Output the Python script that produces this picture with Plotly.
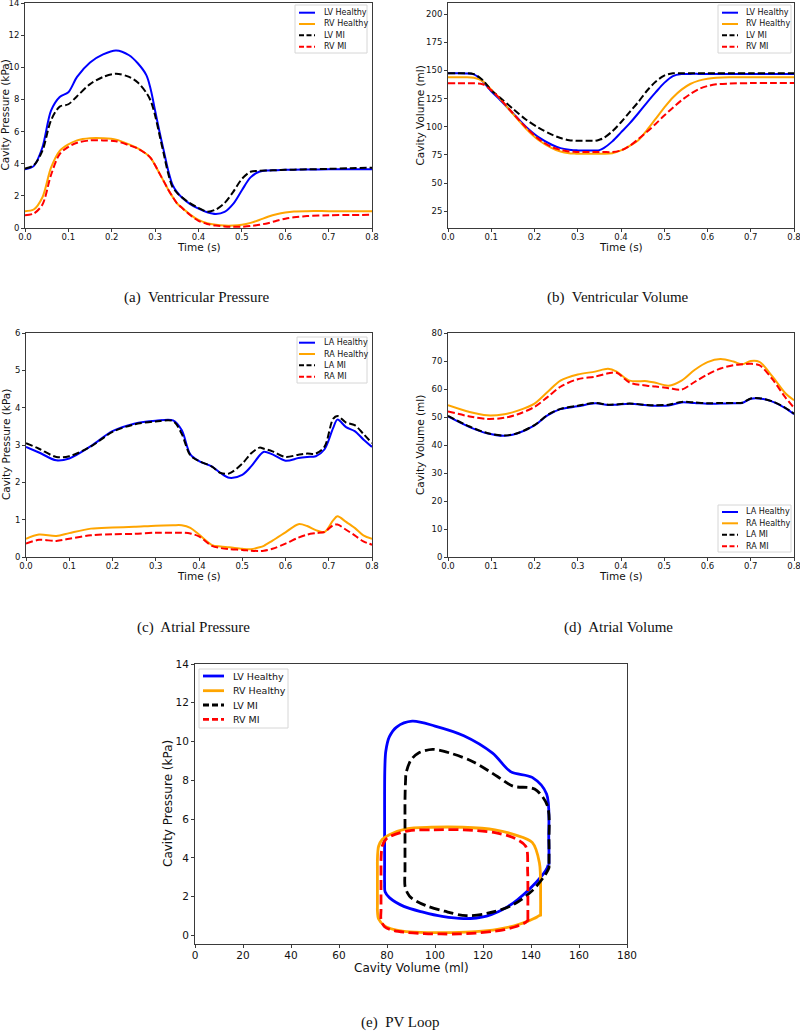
import plotly.graph_objects as go

W, H = 800, 1031

# ---------------- data: ventricles (shared time grid) ----------------
T_V = [0.00, 0.02, 0.04, 0.06, 0.08, 0.10, 0.12, 0.15, 0.18, 0.21, 0.24, 0.26, 0.28, 0.29, 0.30,
       0.31, 0.32, 0.33, 0.34, 0.35, 0.36, 0.38, 0.40, 0.42, 0.44, 0.46, 0.48, 0.50, 0.52, 0.54,
       0.56, 0.58, 0.60, 0.62, 0.65, 0.70, 0.75, 0.80]

LV_P_H = [3.65, 3.85, 5.0, 7.3, 8.15, 8.45, 9.4, 10.3, 10.8, 11.05, 10.75, 10.25, 9.5, 8.6, 7.3,
          6.0, 4.8, 3.6, 2.7, 2.25, 1.95, 1.5, 1.2, 0.98, 0.87, 1.0, 1.5, 2.35, 3.15, 3.5,
          3.58, 3.6, 3.62, 3.63, 3.64, 3.65, 3.65, 3.65]
RV_P_H = [1.05, 1.15, 1.9, 3.75, 4.8, 5.2, 5.45, 5.58, 5.58, 5.5, 5.2, 4.95, 4.6, 4.35, 3.9,
          3.4, 2.9, 2.4, 1.95, 1.55, 1.3, 0.85, 0.5, 0.3, 0.2, 0.15, 0.15, 0.2, 0.32, 0.5,
          0.7, 0.86, 0.97, 1.03, 1.05, 1.05, 1.05, 1.05]
LV_P_MI = [3.7, 3.9, 4.8, 6.7, 7.55, 7.7, 8.2, 8.95, 9.4, 9.6, 9.4, 9.05, 8.4, 7.9, 7.0,
           5.8, 4.6, 3.4, 2.55, 2.2, 1.95, 1.55, 1.25, 1.02, 1.15, 1.55, 2.25, 3.05, 3.5, 3.56,
           3.58, 3.6, 3.62, 3.63, 3.65, 3.68, 3.72, 3.75]
RV_P_MI = [0.8, 0.9, 1.45, 3.3, 4.6, 5.05, 5.3, 5.45, 5.45, 5.4, 5.15, 4.95, 4.6, 4.35, 3.9,
           3.4, 2.9, 2.4, 1.95, 1.55, 1.3, 0.82, 0.45, 0.25, 0.15, 0.1, 0.08, 0.08, 0.12, 0.2,
           0.3, 0.45, 0.58, 0.67, 0.74, 0.79, 0.81, 0.82]

LV_V_H = [147.5, 147.5, 147.4, 146.5, 140.5, 131.5, 124, 112, 100, 90.5, 84, 81, 79.5, 79.1, 79,
          79, 79, 79, 79, 79.2, 81, 87, 95, 103, 112, 121.5, 130.5, 139, 145, 146.8,
          147, 147, 147, 147, 147, 147, 147, 147]
RV_V_H = [144, 144, 144, 143.5, 140.5, 133, 125, 111.5, 98.5, 88, 81, 78, 76.5, 76.2, 76,
          76, 76, 76, 76, 76, 76, 76.5, 79, 83, 88, 97, 107, 117, 126, 133,
          138, 141, 142.7, 143.5, 144, 144, 144, 144]
LV_V_MI = [147.5, 147.5, 147.5, 146.8, 141.5, 132.5, 126, 116, 106.5, 99, 93, 90, 88, 87.7, 87.5,
           87.5, 87.5, 87.5, 87.5, 88.5, 90, 96, 104, 113, 122, 132, 140, 145.5, 147.5, 147.5,
           147.5, 147.5, 147.5, 147.5, 147.5, 147.5, 147.5, 147.5]
RV_V_MI = [138.7, 138.7, 138.7, 138.6, 137.8, 132.5, 125, 112, 99.5, 89, 82, 79.5, 78, 77.7, 77.5,
           77.5, 77.5, 77.5, 77.5, 77.5, 77.5, 77.5, 79, 83, 89, 95.5, 102.5, 110, 117, 123.5,
           129, 133.5, 136.2, 137.7, 138.4, 138.8, 138.8, 138.8]

# ---------------- data: atrial pressure ----------------
T_AP = [0.00, 0.03, 0.07, 0.10, 0.15, 0.20, 0.25, 0.30, 0.34, 0.36, 0.38, 0.40, 0.43, 0.45, 0.47,
        0.50, 0.52, 0.54, 0.55, 0.57, 0.60, 0.63, 0.65, 0.67, 0.69, 0.71, 0.72, 0.74, 0.76, 0.78, 0.80]
LA_P_H = [2.95, 2.8, 2.59, 2.64, 2.97, 3.37, 3.57, 3.65, 3.66, 3.4, 2.75, 2.57, 2.42, 2.25, 2.12,
          2.2, 2.42, 2.72, 2.82, 2.75, 2.58, 2.65, 2.68, 2.7, 2.88, 3.45, 3.68, 3.48, 3.37, 3.15, 2.95]
RA_P_H = [0.49, 0.6, 0.56, 0.64, 0.76, 0.79, 0.81, 0.84, 0.85, 0.85, 0.78, 0.6, 0.32, 0.28, 0.26,
          0.22, 0.21, 0.26, 0.3, 0.44, 0.66, 0.88, 0.83, 0.72, 0.67, 0.98, 1.09, 0.94, 0.78, 0.58, 0.49]
LA_P_MI = [3.05, 2.9, 2.68, 2.7, 2.96, 3.35, 3.55, 3.63, 3.64, 3.3, 2.72, 2.57, 2.42, 2.25, 2.24,
           2.5, 2.77, 2.93, 2.9, 2.83, 2.68, 2.74, 2.77, 2.77, 2.95, 3.7, 3.78, 3.6, 3.53, 3.3, 3.05]
RA_P_MI = [0.36, 0.46, 0.43, 0.49, 0.58, 0.61, 0.62, 0.65, 0.65, 0.65, 0.63, 0.55, 0.3, 0.24, 0.21,
           0.19, 0.17, 0.16, 0.17, 0.22, 0.36, 0.52, 0.6, 0.64, 0.67, 0.85, 0.87, 0.73, 0.58, 0.42, 0.33]

# ---------------- data: atrial volume ----------------
T_AV = [0.00, 0.05, 0.09, 0.13, 0.16, 0.20, 0.23, 0.26, 0.30, 0.34, 0.37, 0.39, 0.42, 0.46, 0.48,
        0.51, 0.54, 0.57, 0.60, 0.63, 0.66, 0.68, 0.70, 0.72, 0.75, 0.78, 0.80]
LA_V_H = [50.2, 46.4, 44.2, 43.3, 44.1, 47.0, 50.6, 52.8, 53.8, 54.9, 54.3, 54.4, 54.7, 54.2, 54.0,
          54.1, 55.2, 55.0, 54.7, 54.8, 54.9, 55.0, 56.5, 56.6, 55.5, 53.2, 51.0]
RA_V_H = [54.2, 51.8, 50.6, 51.0, 52.2, 54.8, 58.9, 63.0, 65.2, 66.2, 67.2, 66.2, 63.0, 62.8, 62.2,
          61.2, 63.0, 66.8, 69.6, 70.7, 69.8, 68.8, 70.0, 69.7, 64.5, 58.5, 56.0]
LA_V_MI = [50.4, 46.6, 44.3, 43.4, 44.2, 47.1, 50.7, 52.9, 54.0, 55.0, 54.4, 54.5, 54.8, 54.3, 54.2,
           54.4, 55.4, 55.2, 54.9, 55.0, 55.0, 55.1, 56.6, 56.7, 55.6, 53.3, 51.2]
RA_V_MI = [52.0, 50.2, 49.3, 49.7, 50.9, 53.6, 57.1, 60.8, 63.5, 64.4, 65.6, 65.8, 62.3, 61.2, 60.9,
           60.3, 59.8, 62.5, 65.2, 67.3, 68.5, 68.8, 69.0, 68.5, 63.5, 57.0, 53.3]

NAMES_V = ["LV Healthy", "RV Healthy", "LV MI", "RV MI"]
NAMES_A = ["LA Healthy", "RA Healthy", "LA MI", "RA MI"]
COLORS = ["#0000ff", "#ffa500", "#000000", "#ff0000"]
DASHED = [False, False, True, True]

CAPTIONS = ["(a)\u00a0 Ventricular Pressure", "(b)\u00a0 Ventricular Volume",
            "(c)\u00a0 Atrial Pressure", "(d)\u00a0 Atrial Volume", "(e)\u00a0 PV Loop"]


def px(x):
    return x / W


def py(y):
    return 1 - y / H


fig = go.Figure()

panels = [
    dict(k="", xd=(25, 372), yd=(3, 228), xr=[0, 0.8], yr=[0, 14], xt=0.1, yt=2, xf=".1f",
         ytitle="Cavity Pressure (kPa)", xtitle="Time (s)", fs=8.5, tfs=10.5),
    dict(k="2", xd=(448, 794), yd=(3, 228), xr=[0, 0.8], yr=[10, 210], xt=0.1, yt=25, xf=".1f",
         ytitle="Cavity Volume (ml)", xtitle="Time (s)", fs=8.5, tfs=10.5, y0=25),
    dict(k="3", xd=(26, 372), yd=(333, 557), xr=[0, 0.8], yr=[0, 6], xt=0.1, yt=1, xf=".1f",
         ytitle="Cavity Pressure (kPa)", xtitle="Time (s)", fs=8.5, tfs=10.5),
    dict(k="4", xd=(448, 794), yd=(333, 557), xr=[0, 0.8], yr=[0, 80], xt=0.1, yt=10, xf=".1f",
         ytitle="Cavity Volume (ml)", xtitle="Time (s)", fs=8.5, tfs=10.5),
    dict(k="5", xd=(195, 627), yd=(664, 944), xr=[0, 180], yr=[-0.44, 14], xt=20, yt=2, xf="d",
         ytitle="Cavity Pressure (kPa)", xtitle="Cavity Volume (ml)", fs=10.5, tfs=12, y0=0),
]

AX = "#3a3a3a"
for p in panels:
    common = dict(showline=True, mirror=True, linecolor=AX, linewidth=1, ticks="outside",
                  ticklen=3, tickwidth=1, tickcolor=AX, showgrid=False, zeroline=False,
                  automargin=False, ticklabeloverflow="allow",
                  tickfont=dict(family="DejaVu Sans", size=p["fs"], color="#111"))
    xa = dict(common, domain=[px(p["xd"][0]), px(p["xd"][1])], range=p["xr"], dtick=p["xt"],
              tick0=0, tickformat=p["xf"], anchor="y" + p["k"], ticklabelstandoff=-2)
    ya = dict(common, domain=[py(p["yd"][1]), py(p["yd"][0])], range=p["yr"], dtick=p["yt"],
              tick0=p.get("y0", 0), anchor="x" + p["k"])
    fig.layout["xaxis" + p["k"]] = xa
    fig.layout["yaxis" + p["k"]] = ya


def add_series(k, xs_list, ys_list, width, dash):
    for xs, ys, c, d in zip(xs_list, ys_list, COLORS, DASHED):
        fig.add_trace(go.Scatter(
            x=xs, y=ys, mode="lines", xaxis="x" + k, yaxis="y" + k, showlegend=False,
            line=dict(color=c, width=width, dash=dash if d else "solid",
                      shape="spline", smoothing=0.9)))


add_series("", [T_V] * 4, [LV_P_H, RV_P_H, LV_P_MI, RV_P_MI], 2, "7px,3px")
add_series("2", [T_V] * 4, [LV_V_H, RV_V_H, LV_V_MI, RV_V_MI], 2, "7px,3px")
add_series("3", [T_AP] * 4, [LA_P_H, RA_P_H, LA_P_MI, RA_P_MI], 2, "7px,3px")
add_series("4", [T_AV] * 4, [LA_V_H, RA_V_H, LA_V_MI, RA_V_MI], 2, "7px,3px")
add_series("5", [LV_V_H, RV_V_H, LV_V_MI, RV_V_MI], [LV_P_H, RV_P_H, LV_P_MI, RV_P_MI], 2.8,
           "10px,4.5px")

shapes = []
annos = []


def legend(box, rows, lx, tx, names, fs, lw, dash):
    x0, y0, x1, y1 = box
    shapes.append(dict(type="rect", xref="paper", yref="paper", x0=px(x0), x1=px(x1),
                       y0=py(y1), y1=py(y0), line=dict(color="#d6d6d6", width=1),
                       fillcolor="rgba(255,255,255,0.85)", layer="above"))
    for yy, n, c, d in zip(rows, names, COLORS, DASHED):
        shapes.append(dict(type="line", xref="paper", yref="paper", x0=px(lx[0]), x1=px(lx[1]),
                           y0=py(yy), y1=py(yy), layer="above",
                           line=dict(color=c, width=lw, dash=dash if d else "solid")))
        annos.append(dict(xref="paper", yref="paper", x=px(tx), y=py(yy), text=n,
                          showarrow=False, xanchor="left", yanchor="middle",
                          font=dict(family="DejaVu Sans", size=fs, color="#111")))


legend((295, 5, 367, 53), [12.7, 24, 35.3, 46.7], (299, 315), 322, NAMES_V, 8, 2, "5px,2.5px")
legend((718, 5, 791, 53), [12.7, 24, 35.3, 46.7], (722, 738), 744, NAMES_V, 8, 2, "5px,2.5px")
legend((297, 337, 367, 383), [342.7, 354, 365.3, 376.7], (299, 315), 322, NAMES_A, 8, 2, "5px,2.5px")
legend((718, 505, 791, 552), [512, 523.3, 534.7, 546.3], (722, 738), 744, NAMES_A, 8, 2, "5px,2.5px")
legend((199, 669, 288, 728), [676, 690.7, 705, 719.3], (203, 224), 231, NAMES_V, 9.5, 2.8, "6px,3px")

# axis titles
for p in panels:
    cx = (p["xd"][0] + p["xd"][1]) / 2
    cy = (p["yd"][0] + p["yd"][1]) / 2
    big = p["k"] == "5"
    annos.append(dict(xref="paper", yref="paper", x=px(cx), y=py(p["yd"][1] + (24 if big else 19)),
                      text=p["xtitle"], showarrow=False, xanchor="center", yanchor="middle",
                      font=dict(family="DejaVu Sans", size=p["tfs"], color="#111")))
    annos.append(dict(xref="paper", yref="paper",
                      x=px(p["xd"][0] - (27 if big else (20 if p["k"] in ("", "3") else 28))),
                      y=py(cy), text=p["ytitle"], showarrow=False, textangle=-90,
                      xanchor="center", yanchor="middle",
                      font=dict(family="DejaVu Sans", size=p["tfs"], color="#111")))

# captions
cap_pos = [(196, 297), (618, 297), (193, 627), (618, 627), (400, 1022)]
for txt, (cx, cy) in zip(CAPTIONS, cap_pos):
    annos.append(dict(xref="paper", yref="paper", x=px(cx), y=py(cy), text=txt, showarrow=False,
                      xanchor="center", yanchor="middle",
                      font=dict(family="Liberation Serif", size=15, color="#111")))

fig.update_layout(width=W, height=H, margin=dict(l=0, r=0, t=0, b=0, pad=0, autoexpand=False),
                  paper_bgcolor="white", plot_bgcolor="white", showlegend=False,
                  shapes=shapes, annotations=annos)

fig.write_html("out.html", config={"displayModeBar": False},
               post_script="document.body.style.margin='0';")
